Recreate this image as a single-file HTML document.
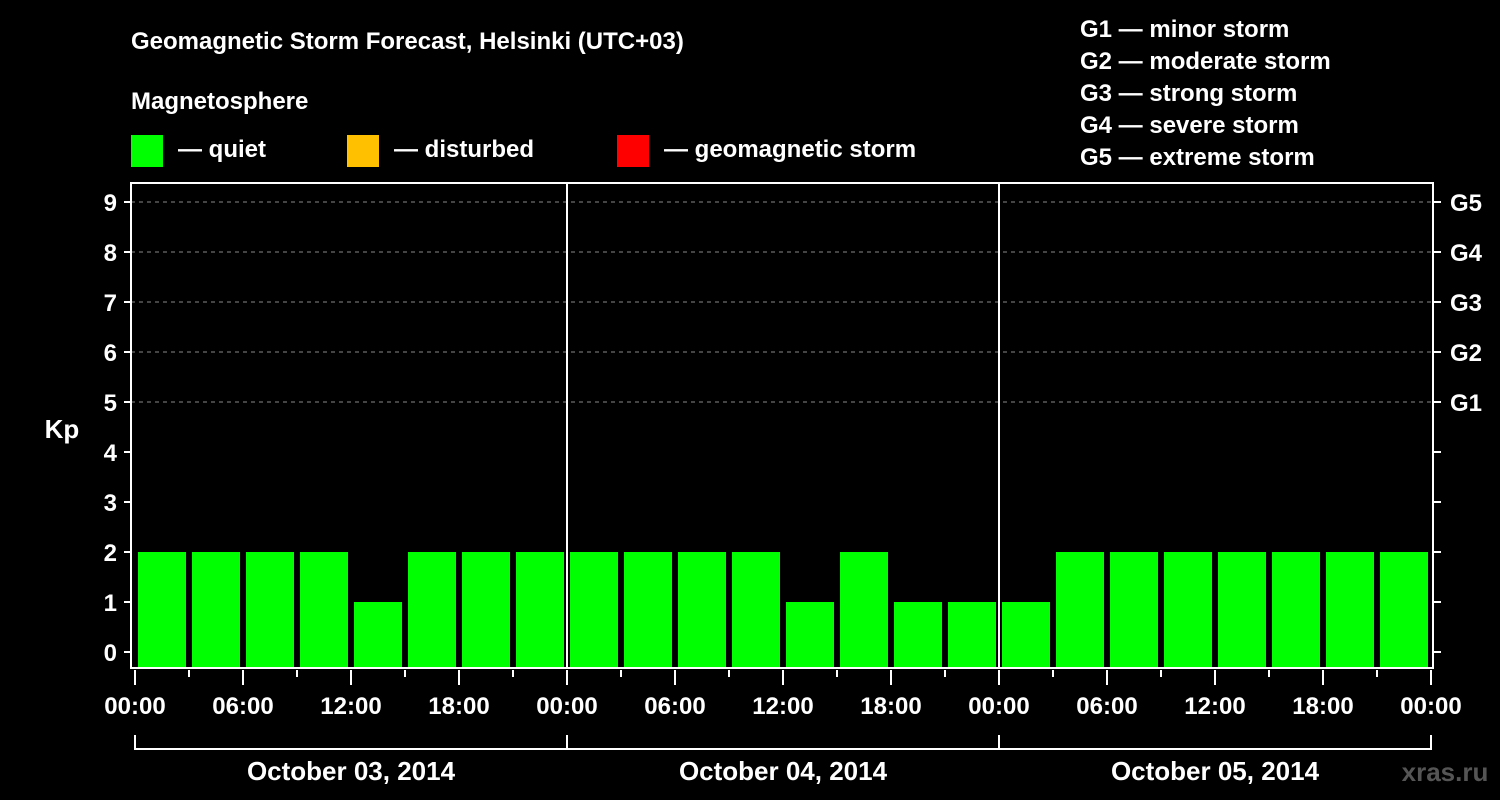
<!DOCTYPE html>
<html><head><meta charset="utf-8"><style>
html,body{margin:0;padding:0;background:#000;}
svg{display:block;font-family:"Liberation Sans",Arial,sans-serif;font-weight:bold;}
</style></head><body>
<svg id="chart" width="1500" height="800" viewBox="0 0 1500 800">
<rect x="0" y="0" width="1500" height="800" fill="#000"/>
<text x="131" y="49" fill="#fff" font-size="24">Geomagnetic Storm Forecast, Helsinki (UTC+03)</text>
<text x="131" y="109" fill="#fff" font-size="24">Magnetosphere</text>
<g><rect x="131" y="135" width="32" height="32" fill="#00ff00"/><text x="178" y="157" fill="#fff" font-size="24">— quiet</text></g>
<g><rect x="347" y="135" width="32" height="32" fill="#ffc000"/><text x="394" y="157" fill="#fff" font-size="24">— disturbed</text></g>
<g><rect x="617" y="135" width="32" height="32" fill="#ff0000"/><text x="664" y="157" fill="#fff" font-size="24">— geomagnetic storm</text></g>
<g fill="#fff" font-size="24">
<text x="1080" y="37">G1 — minor storm</text>
<text x="1080" y="69">G2 — moderate storm</text>
<text x="1080" y="101">G3 — strong storm</text>
<text x="1080" y="133">G4 — severe storm</text>
<text x="1080" y="165">G5 — extreme storm</text>
</g>
<g id="grid"></g>
<g id="bars"></g>
<g id="axes"></g>
<text x="62" y="438" fill="#fff" font-size="26" text-anchor="middle">Kp</text>
<text x="1445" y="781" fill="#555" font-size="26" text-anchor="middle">xras.ru</text>
</svg>
<script>
const days = ["October 03, 2014","October 04, 2014","October 05, 2014"];
const kpValues = [2,2,2,2,1,2,2,2, 2,2,2,2,1,2,1,1, 1,2,2,2,2,2,2,2];
const yTicks = [0,1,2,3,4,5,6,7,8,9];
const gLabels = ["G1","G2","G3","G4","G5"];
const gLevels = [5,6,7,8,9];
const timeLabels = ["00:00","06:00","12:00","18:00"];

const NS="http://www.w3.org/2000/svg";
const X0=135, SLOT=54, DAYW=432;
const yScale=v=>652-50*v;
const xScale=i=>X0+i*SLOT;
function mk(tag,attrs,parent,txt){const e=document.createElementNS(NS,tag);for(const k in attrs)e.setAttribute(k,attrs[k]);if(txt!==undefined)e.textContent=txt;parent.appendChild(e);return e;}
const grid=document.getElementById('grid'),bars=document.getElementById('bars'),axes=document.getElementById('axes');
gLevels.forEach(v=>{
  const l=mk('line',{x1:131,x2:1433,y1:yScale(v),y2:yScale(v),stroke:'#888','stroke-width':1,'stroke-dasharray':'4,4'},grid);
  
  
});
kpValues.forEach((v,i)=>{
  const color=v>=5?'#ff0000':(v>=4?'#ffc000':'#00ff00');
  const top=yScale(v);
  const r=mk('rect',{x:xScale(i)+3,y:top,width:48,height:668-top,fill:color},bars);
  
  
});
const frame=mk('rect',{x:131,y:183,width:1302,height:485,fill:'none',stroke:'#fff','stroke-width':2},axes);


for(let d=1;d<days.length;d++){
  const l=mk('line',{x1:X0+d*DAYW,x2:X0+d*DAYW,y1:183,y2:668,stroke:'#fff','stroke-width':2},axes);
  
  
}
yTicks.forEach(v=>{
  const y=yScale(v);
  mk('line',{x1:124,x2:131,y1:y,y2:y,stroke:'#fff','stroke-width':2},axes);
  mk('line',{x1:1433,x2:1441,y1:y,y2:y,stroke:'#fff','stroke-width':2},axes);
  const t=mk('text',{x:117,y:y+9,fill:'#fff','font-size':24,'text-anchor':'end'},axes,String(v));
  
  
});
gLevels.forEach((v,i)=>{
  const t=mk('text',{x:1450,y:yScale(v)+9,fill:'#fff','font-size':24},axes,gLabels[i]);
  
  
});
for(let i=0;i<=kpValues.length;i++){
  const major=i%2===0;
  mk('line',{x1:xScale(i),x2:xScale(i),y1:670,y2:major?685:677,stroke:'#fff','stroke-width':2},axes);
  if(major){
    const t=mk('text',{x:xScale(i),y:714,fill:'#fff','font-size':24,'text-anchor':'middle'},axes,timeLabels[(i/2)%4]);
    
    
  }
}
mk('line',{x1:X0,x2:X0+days.length*DAYW,y1:749,y2:749,stroke:'#fff','stroke-width':2},axes);
for(let d=0;d<=days.length;d++) mk('line',{x1:X0+d*DAYW,x2:X0+d*DAYW,y1:735,y2:750,stroke:'#fff','stroke-width':2},axes);
days.forEach((s,d)=>{
  const t=mk('text',{x:X0+d*DAYW+DAYW/2,y:780,fill:'#fff','font-size':26,'text-anchor':'middle'},axes,s);
  
  
});
</script>
</body></html>
